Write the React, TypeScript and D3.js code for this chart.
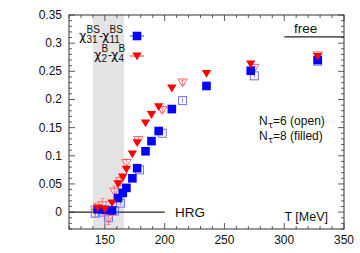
import React, { useEffect, useRef } from 'react';
import * as d3 from 'd3';

// N_tau = 8 (filled)
const tempFilled = [144, 150, 156, 161, 165, 168, 173, 177, 184, 189, 195, 206, 235, 272, 328];
const chiBSFilled = [0.005, 0.004, 0.003, 0.025, 0.034, 0.043, 0.06, 0.078, 0.108, 0.126, 0.144, 0.183, 0.224, 0.251, 0.27];
const chiBFilled = [0.007, 0.005, 0.016, 0.05, 0.062, 0.076, 0.103, 0.123, 0.158, 0.173, 0.187, 0.22, 0.246, 0.263, 0.276];

// N_tau = 6 (open)
const tempOpenBS = [142, 148, 153, 158, 163, 179, 198, 215, 275, 328];
const chiBSOpen = [-0.002, 0.0, -0.01, 0.002, 0.016, 0.075, 0.14, 0.198, 0.242, 0.268];
const errBSOpen = [0.004, 0.004, 0.005, 0.004, 0.004, 0.003, 0.003, 0.004, 0.004, 0.003];
const tempOpenB = [142, 148, 153, 158, 163, 168, 178, 198, 215, 275, 328];
const chiBOpen = [0.004, 0.012, -0.012, 0.036, 0.055, 0.087, 0.128, 0.181, 0.23, 0.256, 0.278];
const errBOpen = [0.012, 0.012, 0.01, 0.01, 0.008, 0.007, 0.006, 0.004, 0.004, 0.003, 0.003];

const xTicks = [150, 200, 250, 300, 350];
const yTicks = [0, 0.05, 0.1, 0.15, 0.2, 0.25, 0.3, 0.35];
const crossover = [140, 166];
const freeLimit = 0.311;

const App = () => {
  const ref = useRef<SVGSVGElement>(null);

  useEffect(() => {
    const width = 360;
    const height = 253;
    const margin = { top: 15, right: 16, bottom: 24, left: 69 };
    const svg = d3.select(ref.current);
    svg.selectAll('*').remove();

    const x = d3.scaleLinear().domain([120, 350]).range([margin.left, width - margin.right]);
    const y = d3.scaleLinear().domain([-0.03, 0.35]).range([height - margin.bottom, margin.top]);
    const font = 'Liberation Sans, Arial, sans-serif';
    const greek = 'DejaVu Sans, sans-serif';
    const [x0, x1] = x.range();
    const [y0, y1] = y.range();

    // crossover band
    svg.append('rect')
      .attr('x', x(crossover[0]))
      .attr('y', y1)
      .attr('width', x(crossover[1]) - x(crossover[0]))
      .attr('height', y0 - y1)
      .attr('fill', '#e4e4e4');

    // HRG and free lines
    svg.append('line')
      .attr('x1', x0).attr('x2', x(200))
      .attr('y1', y(0)).attr('y2', y(0))
      .attr('stroke', '#222').attr('stroke-width', 1.3);
    svg.append('line')
      .attr('x1', x(300)).attr('x2', x1)
      .attr('y1', y(freeLimit)).attr('y2', y(freeLimit))
      .attr('stroke', '#222').attr('stroke-width', 1.3);

    const tri = (cx: number, cy: number) =>
      `M${cx - 4.7},${cy - 3.6}L${cx + 4.7},${cy - 3.6}L${cx},${cy + 4.2}Z`;

    // open blue squares (N_tau=6)
    const ob = svg.append('g');
    tempOpenBS.forEach((t, i) => {
      const cx = x(t), cy = y(chiBSOpen[i]);
      ob.append('line')
        .attr('x1', cx).attr('x2', cx)
        .attr('y1', y(chiBSOpen[i] - errBSOpen[i])).attr('y2', y(chiBSOpen[i] + errBSOpen[i]))
        .attr('stroke', '#7070ff').attr('stroke-width', 0.8);
      ob.append('rect')
        .attr('x', cx - 4).attr('y', cy - 4).attr('width', 8).attr('height', 8)
        .attr('fill', 'none').attr('stroke', '#6f6fff').attr('stroke-width', 1);
    });

    // open red triangles (N_tau=6)
    const or = svg.append('g');
    tempOpenB.forEach((t, i) => {
      const cx = x(t), cy = y(chiBOpen[i]);
      const yl = y(chiBOpen[i] - errBOpen[i]), yh = y(chiBOpen[i] + errBOpen[i]);
      or.append('line')
        .attr('x1', cx).attr('x2', cx).attr('y1', yl).attr('y2', yh)
        .attr('stroke', '#ff7070').attr('stroke-width', 0.8);
      [yl, yh].forEach(v =>
        or.append('line')
          .attr('x1', cx - 2).attr('x2', cx + 2).attr('y1', v).attr('y2', v)
          .attr('stroke', '#ff7070').attr('stroke-width', 0.8));
      or.append('path')
        .attr('d', tri(cx, cy))
        .attr('fill', 'none').attr('stroke', '#ff6060').attr('stroke-width', 1);
    });

    // filled blue squares (N_tau=8)
    svg.append('g').selectAll('rect')
      .data(tempFilled)
      .join('rect')
      .attr('x', (t) => x(t) - 4.3)
      .attr('y', (_, i) => y(chiBSFilled[i]) - 4.3)
      .attr('width', 8.6).attr('height', 8.6)
      .attr('fill', '#0000ff');

    // filled red triangles (N_tau=8)
    svg.append('g').selectAll('path')
      .data(tempFilled)
      .join('path')
      .attr('d', (t, i) => tri(x(t), y(chiBFilled[i])))
      .attr('fill', '#ff0000');

    // frame and ticks
    const axisColor = '#333';
    svg.append('rect')
      .attr('x', x0).attr('y', y1).attr('width', x1 - x0).attr('height', y0 - y1)
      .attr('fill', 'none').attr('stroke', axisColor).attr('stroke-width', 1);

    const tk = svg.append('g').attr('stroke', axisColor).attr('stroke-width', 0.8);
    d3.range(120, 351, 10).forEach((t) => {
      const len = t % 50 === 0 ? 6 : 3;
      tk.append('line').attr('x1', x(t)).attr('x2', x(t)).attr('y1', y0).attr('y2', y0 - len);
      tk.append('line').attr('x1', x(t)).attr('x2', x(t)).attr('y1', y1).attr('y2', y1 + len);
    });
    d3.range(-3, 36, 1).forEach((k) => {
      const v = k / 100;
      const len = k % 5 === 0 ? 6 : 3;
      tk.append('line').attr('x1', x0).attr('x2', x0 + len).attr('y1', y(v)).attr('y2', y(v));
      tk.append('line').attr('x1', x1).attr('x2', x1 - len).attr('y1', y(v)).attr('y2', y(v));
    });

    // tick labels
    svg.append('g').selectAll('text')
      .data(xTicks)
      .join('text')
      .attr('x', (t) => x(t)).attr('y', 244)
      .attr('text-anchor', 'middle')
      .attr('font-family', font).attr('font-size', 12).attr('fill', '#111')
      .text((t) => t);
    svg.append('g').selectAll('text')
      .data(yTicks)
      .join('text')
      .attr('x', 62).attr('y', (v) => y(v) + 4)
      .attr('text-anchor', 'end')
      .attr('font-family', font).attr('font-size', 12).attr('fill', '#111')
      .text((v) => (v === 0 ? '0' : String(v)));

    const label = (tx: number, ty: number, s: string, size = 13, anchor = 'start') =>
      svg.append('text')
        .attr('x', tx).attr('y', ty).attr('text-anchor', anchor)
        .attr('font-family', font).attr('font-size', size).attr('fill', '#111')
        .text(s);

    label(175, 217, 'HRG', 13.5);
    label(294, 33, 'free', 13.5);
    label(328, 221, 'T [MeV]', 12.5, 'end');

    // N_tau labels
    const nt = (ty: number, rest: string) => {
      const t = svg.append('text')
        .attr('x', 259).attr('y', ty)
        .attr('font-family', font).attr('font-size', 12).attr('fill', '#111');
      t.append('tspan').text('N');
      t.append('tspan').attr('dy', 3).attr('font-size', 9).attr('font-family', greek).text('τ');
      t.append('tspan').attr('dy', -3).text(rest);
    };
    nt(125, '=6 (open)');
    nt(140, '=8 (filled)');

    // legend: stacked sub/superscripts
    const chi = (cx: number, base: number, sub: string, sup: string) => {
      const g = svg.append('g').attr('font-family', font).attr('fill', '#111');
      g.append('text').attr('x', cx).attr('y', base).attr('font-size', 13)
        .attr('font-family', greek).text('χ');
      g.append('text').attr('x', cx + 7.5).attr('y', base + 3).attr('font-size', 10).text(sub);
      g.append('text').attr('x', cx + 7.5).attr('y', base - 7).attr('font-size', 10).text(sup);
    };
    chi(79, 40, '31', 'BS');
    label(99, 40, '-', 12);
    chi(102, 40, '11', 'BS');
    chi(94, 59, '2', 'B');
    label(108, 59, '-', 12);
    chi(111, 59, '4', 'B');

    // legend markers
    const lx = 137;
    svg.append('line').attr('x1', lx - 7).attr('x2', lx + 7).attr('y1', 36).attr('y2', 36)
      .attr('stroke', '#0000ff').attr('stroke-width', 0.8);
    svg.append('rect').attr('x', lx - 4.3).attr('y', 31.7).attr('width', 8.6).attr('height', 8.6)
      .attr('fill', '#0000ff');
    svg.append('line').attr('x1', lx - 7).attr('x2', lx + 7).attr('y1', 56).attr('y2', 56)
      .attr('stroke', '#ff0000').attr('stroke-width', 0.8);
    svg.append('path').attr('d', tri(lx, 56)).attr('fill', '#ff0000');
  }, []);

  return (
    <div style={{ position: 'fixed', left: 0, top: 0 }}>
      <svg ref={ref} width={360} height={253} style={{ display: 'block', background: '#fff' }} />
    </div>
  );
};

export default App;
